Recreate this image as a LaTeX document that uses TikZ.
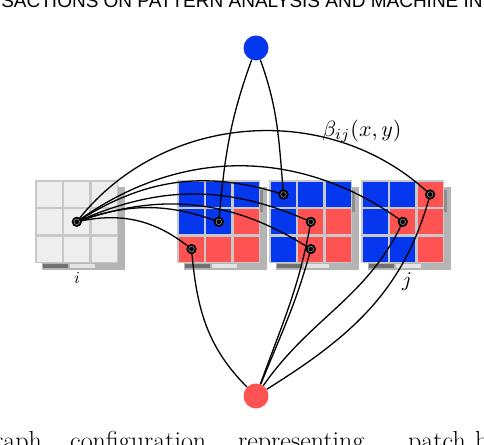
\documentclass[tikz,border=0pt]{standalone}
\usepackage{fontspec}
\newfontfamily\headfont{Liberation Sans}
\definecolor{pblue}{HTML}{0538EE}
\definecolor{pred}{HTML}{FF5252}
\definecolor{pcell}{HTML}{EEEEEE}
\definecolor{frameg}{HTML}{C8C8C8}
\definecolor{shadg}{HTML}{B4B4B4}
\definecolor{barg}{HTML}{707070}
\definecolor{lbarg}{HTML}{E4E4E4}
\newcommand\mypatch[3]{%
  \begin{scope}[shift={(#1,#2)}]
    \fill[shadg] (7,-7) rectangle (90,-90);
    \fill[barg] (8,-84) rectangle (33,-88);
    \fill[lbarg] (35,-84) rectangle (60,-88);
    \fill[frameg] (0,0) rectangle (83,-83);
    \foreach \c [count=\k from 0] in {#3} {
      \pgfmathtruncatemacro\rr{floor(\k/3)}
      \pgfmathtruncatemacro\cc{mod(\k,3)}
      \fill[\c] (2+27.3*\cc,-2-27.3*\rr) rectangle ++(25,-25);
    }
  \end{scope}}
\tikzset{
  edge/.style={line width=1.3pt, black},
  dot/.style={circle, fill=black, inner sep=0pt, minimum size=10pt},
  bigdot/.style={circle, inner sep=0pt, minimum size=25pt},
  capword/.style={font=\fontsize{26}{30}\selectfont, anchor=base west, inner sep=0pt},
}
\begin{document}
\begin{tikzpicture}[x=1pt,y=1pt]
\useasboundingbox (0,0) rectangle (484,444);
% header and caption (cut by the page)
\node[font=\headfont\fontsize{19}{22}\selectfont, anchor=base] (hdr) at (242,436.5) {SACTIONS ON PATTERN ANALYSIS AND MACHINE IN};
\node[capword] (w1) at (-18,-5) {graph};
\node[capword] (w2) at (70,-5) {configuration};
\node[capword] (w3) at (238,-5) {representing};
\node[capword] (w4) at (408,-5) {patch};
\node[capword] (w5) at (475,-5) {b};
% patches
\mypatch{35}{264}{pcell,pcell,pcell,pcell,pcell,pcell,pcell,pcell,pcell}
\mypatch{177}{264}{pblue,pblue,pblue,pblue,pblue,pred,pred,pred,pred}
\mypatch{269}{264}{pblue,pblue,pblue,pblue,pred,pred,pblue,pred,pred}
\mypatch{361}{264}{pblue,pblue,pred,pblue,pred,pred,pblue,pblue,pred}
\foreach \xx in {177,269,361} \fill[barg!80] (\xx+83,254) rectangle (\xx+86,232);
% nodes
\node[dot] (ni) at (76.8,222.2) {};
\node[dot] (p2c) at (218.8,222.2) {};
\node[dot] (p2d) at (191.5,194.9) {};
\node[dot] (p3a) at (283.5,249.5) {};
\node[dot] (p3b) at (310.8,222.2) {};
\node[dot] (p3c) at (310.8,194.9) {};
\node[dot] (p4a) at (430.1,249.5) {};
\node[dot] (p4b) at (402.8,222.2) {};
\node[bigdot, fill=pblue] (blue) at (256,396) {};
\node[bigdot, fill=pred] (red) at (256,48) {};
% edges from i
\draw[edge] (ni.center) to[bend left=26] (p2d.center);
\draw[edge] (ni.center) to[bend left=20] (p2c.center);
\draw[edge] (ni.center) to[bend left=25] (p3a.center);
\draw[edge] (ni.center) to[bend left=24] (p3b.center);
\draw[edge] (ni.center) to[bend left=26] (p3c.center);
\draw[edge] (ni.center) to[bend left=36] (p4b.center);
\draw[edge] (ni.center) to[bend left=48] (p4a.center);
% edges from blue
\draw[edge] (blue) to[out=-110,in=85] (p2c.center);
\draw[edge] (blue) to[out=-70,in=95] (p3a.center);
% edges from red
\draw[edge] (red) to[out=135,in=-85] (p2d.center);
\draw[edge] (red) to[out=70,in=-100] (p3b.center);
\draw[edge] (red) to[out=68,in=-105] (p3c.center);
\draw[edge] (red) to[out=55,in=-115] (p4b.center);
\draw[edge] (red) to[out=32,in=-105] (p4a.center);
% redraw dots on top
\foreach \n in {ni,p2c,p2d,p3a,p3b,p3c,p4a,p4b} {
  \fill[black] (\n.center) circle (5);
  \draw[gray!70, line width=0.5pt] (\n.center) circle (2.8);
}
% labels
\node[scale=1.7, transform shape] (li) at (77,166) {$i$};
\node[scale=2.1, transform shape] (lj) at (407,162) {$j$};
\node[scale=2.2, transform shape] (lb) at (362,313) {$\beta_{ij}(x,y)$};
\end{tikzpicture}
\end{document}
